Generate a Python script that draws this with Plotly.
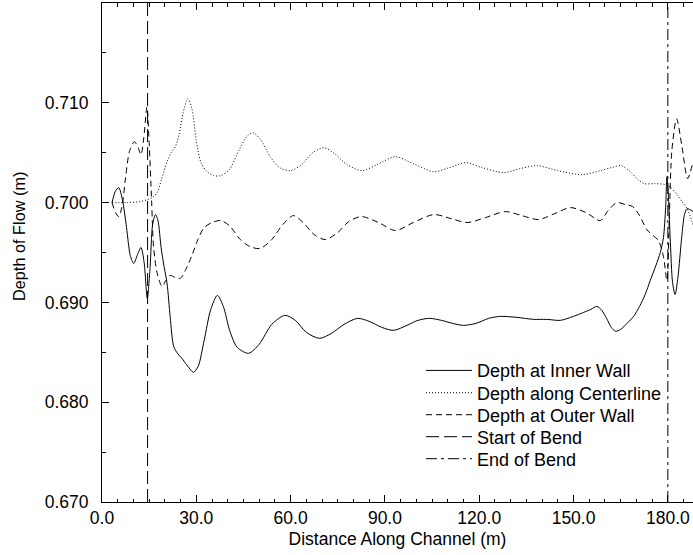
import plotly.graph_objects as go

# ---------------- data ----------------
inner_x = [3.2, 4.2, 5.3, 6.5, 7.8, 9.0, 10.1, 11.3, 12.4, 13.4, 14.4, 15.3, 16.1, 17.0, 17.8, 18.8,
           19.8, 20.7, 21.7, 22.8, 24.0, 25.4, 27.3, 29.1, 30.6, 32.5, 34.6, 36.7, 38.6, 40.6, 43.0,
           46.6, 50.0, 54.0, 58.2, 61.5, 65.0, 69.2, 73.0, 77.0, 81.3, 85.0, 89.0, 92.8, 97.0, 100.5,
           104.2, 108.0, 111.5, 115.0, 119.0, 123.0, 126.7, 132.0, 137.3, 141.5, 145.8, 150.0, 153.2,
           155.5, 157.4, 159.0, 160.5, 162.0, 163.4, 165.0, 167.0, 169.1, 171.0, 172.8, 174.4, 176.2,
           177.6, 178.6, 179.3, 179.7, 180.2, 180.8, 181.5, 182.3, 183.2, 184.4, 185.3, 186.1, 187.0, 188.0]
inner_y = [0.7000, 0.7011, 0.7015, 0.7003, 0.6975, 0.6947, 0.6939, 0.6948, 0.6955, 0.6940, 0.6904, 0.6935,
           0.6978, 0.6988, 0.6982, 0.6955, 0.6935, 0.6919, 0.6885, 0.6856, 0.6849, 0.6844, 0.6836, 0.6830,
           0.6836, 0.6862, 0.6893, 0.6907, 0.6896, 0.6872, 0.6855, 0.6849, 0.6858, 0.6878, 0.6887, 0.6882,
           0.6870, 0.6864, 0.6869, 0.6878, 0.6884, 0.6881, 0.6875, 0.6872, 0.6877, 0.6882, 0.6884, 0.6882,
           0.6879, 0.6877, 0.6879, 0.6884, 0.6886, 0.6885, 0.6883, 0.6883, 0.6882, 0.6886, 0.6890, 0.6893,
           0.6896, 0.6892, 0.6884, 0.6875, 0.6871, 0.6873, 0.6879, 0.6886, 0.6896, 0.6908, 0.6922, 0.6937,
           0.6950, 0.6965, 0.6995, 0.7026, 0.7005, 0.6960, 0.6920, 0.6908, 0.6925, 0.6965, 0.6988, 0.6994,
           0.6993, 0.6991]

center_x = [3.2, 8.0, 12.0, 14.5, 16.0, 17.5, 19.0, 20.7, 22.0, 23.3, 24.5, 25.8, 27.3, 28.6, 30.0, 31.5,
            33.4, 35.5, 37.7, 40.5, 43.5, 46.0, 48.0, 50.5, 53.5, 56.5, 60.0, 63.5, 67.0, 70.6, 74.0, 78.0,
            82.7, 87.5, 93.3, 99.0, 105.5, 110.5, 115.6, 121.0, 127.7, 133.0, 138.4, 145.0, 152.7, 158.5,
            162.0, 165.2, 168.0, 170.5, 172.5, 176.0, 179.2, 181.0, 182.9, 184.5, 186.1, 188.0]
center_y = [0.7000, 0.7000, 0.7001, 0.7003, 0.7005, 0.7010, 0.7024, 0.7041, 0.7050, 0.7056, 0.7068, 0.7090,
            0.7104, 0.7094, 0.7062, 0.7040, 0.7031, 0.7027, 0.7027, 0.7033, 0.7052, 0.7066, 0.7070, 0.7063,
            0.7046, 0.7035, 0.7032, 0.7038, 0.7050, 0.7055, 0.7049, 0.7038, 0.7032, 0.7038, 0.7046, 0.7039,
            0.7031, 0.7035, 0.7040, 0.7035, 0.7030, 0.7034, 0.7037, 0.7032, 0.7028, 0.7032, 0.7035, 0.7037,
            0.7031, 0.7023, 0.7019, 0.7019, 0.7018, 0.7015, 0.7008, 0.7001, 0.6994, 0.6978]

outer_x = [3.2, 4.3, 5.3, 6.3, 7.5, 8.8, 10.3, 11.5, 12.4, 13.3, 14.3, 15.0, 15.8, 16.4, 17.5, 19.1, 20.3,
           21.7, 23.3, 24.9, 26.5, 28.6, 30.5, 32.5, 35.0, 37.7, 40.5, 44.0, 47.0, 50.3, 54.0, 57.5, 60.9,
           64.0, 67.5, 71.0, 75.0, 78.5, 82.5, 88.0, 93.3, 99.0, 105.5, 111.0, 116.1, 122.0, 128.3, 133.5,
           138.9, 144.0, 149.0, 154.0, 158.5, 161.0, 163.8, 166.5, 168.8, 171.0, 173.3, 175.3, 177.0, 178.6,
           179.7, 180.5, 181.3, 182.8, 184.5, 186.3, 188.0]
outer_y = [0.7000, 0.6990, 0.6986, 0.6995, 0.7025, 0.7052, 0.7061, 0.7055, 0.7048, 0.7065, 0.7096, 0.7060,
           0.7000, 0.6956, 0.6930, 0.6916, 0.6922, 0.6927, 0.6925, 0.6924, 0.6932, 0.6947, 0.6963, 0.6975,
           0.6980, 0.6982, 0.6977, 0.6963, 0.6956, 0.6954, 0.6963, 0.6978, 0.6987, 0.6980, 0.6968, 0.6963,
           0.6970, 0.6981, 0.6986, 0.6980, 0.6972, 0.6980, 0.6988, 0.6984, 0.6980, 0.6985, 0.6991, 0.6987,
           0.6983, 0.6989, 0.6995, 0.6990, 0.6982, 0.6992, 0.7000, 0.6998, 0.6996, 0.6987, 0.6973, 0.6967,
           0.6962, 0.6946, 0.6922, 0.6990, 0.7053, 0.7084, 0.7056, 0.7024, 0.7041]

start_bend_x = [14.5, 14.5]
end_bend_x = [180.0, 180.0]
bend_y = [0.670, 0.720]

names = ["Depth at Inner Wall", "Depth along Centerline", "Depth at Outer Wall",
         "Start of Bend", "End of Bend"]

y_ticks = [0.670, 0.680, 0.690, 0.700, 0.710]
x_ticks = [0.0, 30.0, 60.0, 90.0, 120.0, 150.0, 180.0]

# ---------------- figure ----------------
FONT = "Liberation Sans, Arial, Helvetica, sans-serif"
FS = 17.5

series = [
    (inner_x, inner_y, "solid", True),
    (center_x, center_y, "1px,2px", True),
    (outer_x, outer_y, "6px,4px", True),
    (start_bend_x, bend_y, "13px,5px", False),
    (end_bend_x, bend_y, "11px,4px,3px,4px", False),
]

fig = go.Figure()
legend_ids = ["legend", "legend2", "legend3", "legend4", "legend5"]
for i, ((xs, ys, dash, smooth), nm) in enumerate(zip(series, names)):
    fig.add_trace(go.Scatter(
        x=xs, y=ys, mode="lines", name=nm,
        line=dict(color="black", width=1, dash=dash,
                  shape="spline" if smooth else "linear", smoothing=0.8),
        legend=legend_ids[i], showlegend=True,
    ))

row_py = [370.7, 393.0, 415.0, 437.0, 459.0]
layout_legends = {}
for lid, py in zip(legend_ids, row_py):
    layout_legends[lid] = dict(
        x=(421 - 102) / 591, xanchor="left",
        y=(502 - py) / 499, yanchor="middle",
        bgcolor="rgba(0,0,0,0)", borderwidth=0,
        font=dict(family=FONT, size=18, color="black"),
        itemwidth=46,
    )

fig.update_layout(
    width=693, height=555,
    margin=dict(l=102, r=0, t=3, b=53, autoexpand=False),
    paper_bgcolor="white", plot_bgcolor="white",
    font=dict(family=FONT, size=FS, color="black"),
    annotations=[dict(
        text="Depth of Flow (m)", textangle=-90,
        xref="paper", yref="paper",
        x=-(102 - 19) / 591, y=(502 - 237) / 499,
        xanchor="center", yanchor="middle", showarrow=False,
        font=dict(family=FONT, size=16.3, color="black"),
    )],
    **layout_legends,
)

fig.update_xaxes(
    range=[0, 188], showgrid=False, zeroline=False, automargin=False,
    showline=True, linecolor="black", linewidth=1, mirror="ticks",
    ticks="inside", ticklen=7, tickcolor="black",
    tickvals=x_ticks, ticktext=[f"{v:.1f}" for v in x_ticks],
    minor=dict(ticks="inside", ticklen=3.5, dtick=5, tick0=0, tickcolor="black", showgrid=False),
    title=dict(text="Distance Along Channel (m)", standoff=5, font=dict(size=FS)),
    tickfont=dict(size=FS),
)
fig.update_yaxes(
    range=[0.670, 0.720], showgrid=False, zeroline=False, automargin=False,
    showline=True, linecolor="black", linewidth=1, mirror=False,
    ticks="inside", ticklen=7, tickcolor="black",
    tickvals=y_ticks, ticktext=[f"{v:.3f}" for v in y_ticks],
    minor=dict(ticks="inside", ticklen=3.5, dtick=0.005, tick0=0.670, tickcolor="black", showgrid=False),
    tickfont=dict(size=FS), ticklabelstandoff=9,
)

fig.write_html("out.html", config={"displayModeBar": False},
               post_script="document.body.style.margin='0';document.body.style.padding='0';")
